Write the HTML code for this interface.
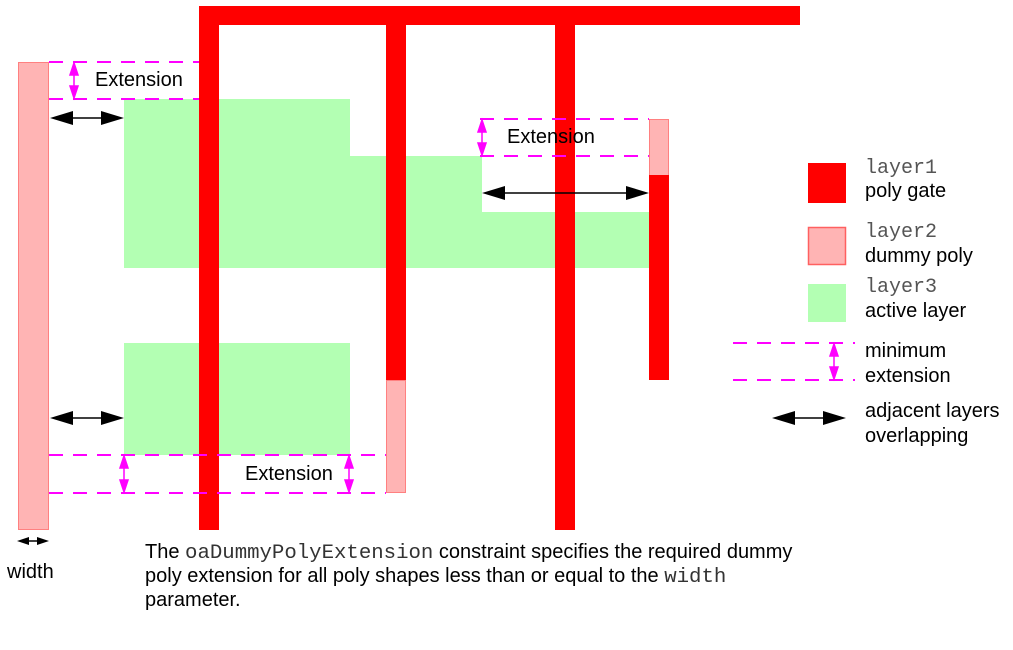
<!DOCTYPE html>
<html><head><meta charset="utf-8"><style>
html,body{margin:0;padding:0;background:#fff;}
svg{display:block;}
text{font-family:"Liberation Sans",sans-serif;font-size:20px;fill:#000;}
.m{font-family:"Liberation Mono",monospace;fill:#555;font-size:20px;}
.c{font-family:"Liberation Mono",monospace;fill:#333;font-size:20.7px;}
</style></head><body>
<svg width="1013" height="650" viewBox="0 0 1013 650" xmlns="http://www.w3.org/2000/svg">
<polygon points="124,99 350,99 350,156 482,156 482,212 649,212 649,268 124,268" fill="#b3ffb3"/>
<rect x="124" y="343" width="226" height="112" fill="#b3ffb3"/>
<rect x="18.5" y="62.5" width="30" height="467" fill="#ffb4b4" stroke="#ff8080"/>
<rect x="386.5" y="380.5" width="19" height="112" fill="#ffb4b4" stroke="#ff8080"/>
<rect x="649.5" y="119.5" width="19" height="56" fill="#ffb4b4" stroke="#ff8080"/>
<rect x="199" y="6" width="601" height="19" fill="#f00"/>
<rect x="199" y="6" width="20" height="524" fill="#f00"/>
<rect x="386" y="25" width="20" height="355" fill="#f00"/>
<rect x="555" y="25" width="20" height="505" fill="#f00"/>
<rect x="649" y="175" width="20" height="205" fill="#f00"/>
<g stroke="#f0f" stroke-width="2" stroke-dasharray="14,10" fill="none">
<line x1="49" y1="62" x2="199" y2="62"/>
<line x1="49" y1="99" x2="199" y2="99"/>
<line x1="480" y1="119" x2="649" y2="119"/>
<line x1="480" y1="156" x2="649" y2="156"/>
<line x1="49" y1="455" x2="386" y2="455"/>
<line x1="49" y1="493" x2="386" y2="493"/>
<line x1="733" y1="343" x2="855" y2="343"/>
<line x1="733" y1="380" x2="855" y2="380"/>
</g>
<g fill="#f0f" stroke="#f0f" stroke-width="1.5">
<line x1="74" y1="64" x2="74" y2="97"/><polygon points="74,63 70,75 78,75"/><polygon points="74,98 70,86 78,86"/>
<line x1="482" y1="121" x2="482" y2="154"/><polygon points="482,120 478,132 486,132"/><polygon points="482,155 478,143 486,143"/>
<line x1="124" y1="457" x2="124" y2="491"/><polygon points="124,456 120,468 128,468"/><polygon points="124,492 120,480 128,480"/>
<line x1="349" y1="457" x2="349" y2="491"/><polygon points="349,456 345,468 353,468"/><polygon points="349,492 345,480 353,480"/>
<line x1="834" y1="345" x2="834" y2="378"/><polygon points="834,344 830,356 838,356"/><polygon points="834,379 830,367 838,367"/>
</g>
<g stroke="#000" stroke-width="1.5" fill="#000">
<line x1="60" y1="118" x2="114" y2="118"/><polygon points="50,118 73,111 73,125" stroke="none"/><polygon points="124,118 101,111 101,125" stroke="none"/>
<line x1="60" y1="418" x2="114" y2="418"/><polygon points="50,418 73,411 73,425" stroke="none"/><polygon points="124,418 101,411 101,425" stroke="none"/>
<line x1="492" y1="193" x2="640" y2="193"/><polygon points="482,193 505,186 505,200" stroke="none"/><polygon points="649,193 626,186 626,200" stroke="none"/>
<line x1="780" y1="418" x2="838" y2="418"/><polygon points="772,418 795,411 795,425" stroke="none"/><polygon points="846,418 823,411 823,425" stroke="none"/>
<line x1="22" y1="541" x2="46" y2="541"/><polygon points="17,541 29,537 29,545" stroke="none"/><polygon points="49,541 37,537 37,545" stroke="none"/>
</g>
<text x="95" y="86">Extension</text>
<text x="507" y="143">Extension</text>
<text x="245" y="480">Extension</text>
<text x="7" y="578">width</text>
<rect x="808" y="163" width="38" height="40" fill="#f00"/>
<rect x="808.5" y="227.5" width="37" height="37" fill="#ffb4b4" stroke="#ff6060" stroke-width="1.5"/>
<rect x="808" y="284" width="38" height="38" fill="#b3ffb3"/>
<text class="m" x="865" y="173">layer1</text>
<text x="865" y="197">poly gate</text>
<text class="m" x="865" y="237">layer2</text>
<text x="865" y="262">dummy poly</text>
<text class="m" x="865" y="292">layer3</text>
<text x="865" y="317">active layer</text>
<text x="865" y="357">minimum</text>
<text x="865" y="382">extension</text>
<text x="865" y="417">adjacent layers</text>
<text x="865" y="442">overlapping</text>
<text x="145" y="558">The <tspan class="c">oaDummyPolyExtension</tspan> constraint specifies the required dummy</text>
<text x="145" y="582">poly extension for all poly shapes less than or equal to the <tspan class="c">width</tspan></text>
<text x="145" y="606">parameter.</text>
</svg>
</body></html>
